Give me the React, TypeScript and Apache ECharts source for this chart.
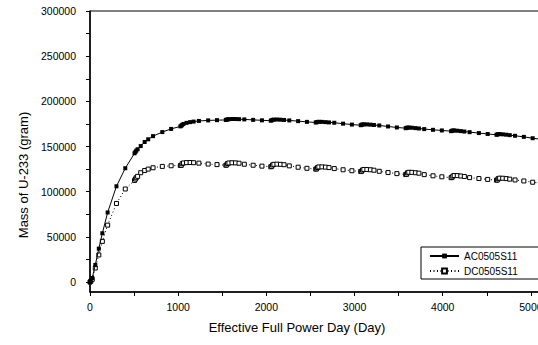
import React, { useEffect, useRef } from "react";
import * as echarts from "echarts";

const days = [
  0, 10, 25, 60, 100, 140, 200, 300, 400, 505,
  515, 525, 540, 575, 620, 660, 715, 820, 920, 1025,
  1035, 1045, 1060, 1095, 1135, 1175, 1235, 1340, 1440, 1540,
  1550, 1560, 1575, 1610, 1650, 1690, 1750, 1850, 1950, 2050,
  2060, 2070, 2085, 2120, 2160, 2200, 2260, 2360, 2460, 2560,
  2570, 2580, 2595, 2630, 2670, 2710, 2770, 2870, 2970, 3070,
  3080, 3090, 3105, 3140, 3180, 3220, 3280, 3380, 3480, 3580,
  3590, 3600, 3615, 3650, 3690, 3730, 3790, 3890, 3990, 4095,
  4105, 4115, 4130, 4165, 4205, 4245, 4305, 4410, 4510, 4610,
  4620, 4630, 4645, 4680, 4720, 4760, 4820, 4920, 5020, 5120,
];

const acValues = [
  0, 1500, 4500, 19000, 37000, 54000, 77000, 106000, 126000, 142500,
  144000, 145500, 147000, 150500, 155000, 158000, 161500, 166000, 169500, 172300,
  173000, 174000, 175000, 176200, 177000, 177600, 178300, 178900, 179200, 179400,
  179700, 180000, 180300, 180500, 180500, 180300, 180000, 179500, 179000, 178600,
  179000, 179500, 179800, 179900, 179700, 179400, 178900, 178100, 177300, 176600,
  176900, 177200, 177400, 177300, 177000, 176700, 176300, 175300, 174300, 173600,
  174000, 174400, 174600, 174500, 174200, 173800, 173300, 172200, 171100, 170300,
  170600, 170900, 171000, 170800, 170400, 170000, 169300, 168500, 167800, 167000,
  167400, 167700, 167800, 167500, 167100, 166600, 165900, 164900, 163900, 163000,
  163400, 163700, 163800, 163500, 163100, 162600, 161900, 160700, 159200, 158000,
];

const dcValues = [
  0, 1000, 3000, 15500, 30000, 45000, 63000, 87000, 103000, 112500,
  114000, 115500, 117000, 121000, 123500, 125000, 126500, 128000, 128700, 129000,
  129200, 131000, 131800, 132200, 132300, 132100, 131600, 130600, 130000, 129300,
  129600, 131200, 131800, 132000, 131900, 131500, 130400, 129300, 128300, 127600,
  128000, 129600, 130300, 130500, 130300, 129900, 128600, 127100, 125900, 125000,
  125300, 126800, 127400, 127500, 127200, 126700, 125600, 124300, 123200, 122300,
  122600, 124000, 124600, 124600, 124300, 123800, 122600, 121200, 120000, 119000,
  119300, 120900, 121500, 121400, 121000, 120500, 118900, 117600, 116500, 115500,
  115800, 117300, 117900, 117800, 117400, 116800, 115600, 114600, 113600, 112800,
  113000, 114500, 115000, 114900, 114500, 113900, 113000, 111900, 110500, 109500,
];

const seriesNames = ["AC0505S11", "DC0505S11"];
const yLabelValues = [0, 50000, 100000, 150000, 200000, 250000, 300000];
const yTickValues = [0, 25000, 50000, 75000, 100000, 125000, 150000, 175000, 200000, 225000, 250000, 275000, 300000];
const xAxisTitle = "Effective Full Power Day (Day)";
const yAxisTitle = "Mass of U-233 (gram)";

const FONT = "'Liberation Sans', Arial, Helvetica, sans-serif";

export default function App() {
  const ref = useRef<HTMLDivElement>(null);

  useEffect(() => {
    if (!ref.current) return;
    const chart = echarts.init(ref.current, null, { renderer: "svg" });
    const ac = days.map((d, i) => [d, acValues[i]]);
    const dc = days.map((d, i) => [d, dcValues[i]]);
    chart.setOption({
      animation: false,
      backgroundColor: "#fff",
      textStyle: { fontFamily: FONT, color: "#000" },
      grid: {
        left: 90,
        top: 11,
        width: 485,
        height: 281,
        show: true,
        borderColor: "#000",
        borderWidth: 1,
        backgroundColor: "transparent",
      },
      legend: {
        orient: "vertical",
        left: 421,
        top: 247,
        borderColor: "#000",
        borderWidth: 1,
        padding: [4, 30, 3, 8],
        itemWidth: 29,
        itemHeight: 6,
        itemGap: 5,
        textStyle: { fontSize: 10, color: "#000", fontFamily: FONT },
        data: seriesNames,
      },
      xAxis: {
        type: "value",
        min: 0,
        max: 5500,
        interval: 500,
        axisLine: { onZero: false, lineStyle: { color: "#000", width: 1.5 } },
        axisTick: { show: true, length: 4, lineStyle: { color: "#000", width: 1 } },
        axisLabel: {
          interval: 1, fontSize: 10.5, color: "#000", margin: 9, fontFamily: FONT,
          formatter: (v: number) => (v % 1000 === 0 ? String(v) : ""),
        },
        splitLine: { show: false },
      },
      yAxis: {
        type: "value",
        min: -11000,
        max: 300000,
        axisLine: { onZero: false, lineStyle: { color: "#000", width: 1.5 } },
        axisTick: { show: true, length: 4, customValues: yTickValues, lineStyle: { color: "#000", width: 1 } },
        axisLabel: {
          customValues: yLabelValues, fontSize: 10.5, color: "#000", margin: 14, fontFamily: FONT,
          formatter: (v: number) => String(v),
        },
        splitLine: { show: false },
      },
      graphic: [
        {
          type: "text",
          x: 297,
          y: 327,
          style: { text: xAxisTitle, fontSize: 13, fill: "#000", align: "center", verticalAlign: "middle", fontFamily: FONT },
        },
        {
          type: "text",
          x: 23,
          y: 175,
          rotation: Math.PI / 2,
          style: { text: yAxisTitle, fontSize: 13, fill: "#000", align: "center", verticalAlign: "middle", fontFamily: FONT },
        },
      ],
      series: [
        {
          name: seriesNames[0],
          type: "line",
          data: ac,
          symbol: "rect",
          symbolSize: 4,
          showAllSymbol: true,
          itemStyle: { color: "#000" },
          lineStyle: { color: "#000", width: 1 },
          z: 3,
        },
        {
          name: seriesNames[1],
          type: "line",
          data: dc,
          symbol: "rect",
          symbolSize: 4,
          showAllSymbol: true,
          itemStyle: { color: "#fff", borderColor: "#000", borderWidth: 1 },
          lineStyle: { color: "#000", width: 1, type: [1, 2.5] },
          z: 2,
        },
      ],
    });
    return () => chart.dispose();
  }, []);

  return (
    <div
      ref={ref}
      style={{ position: "fixed", left: 0, top: 0, width: 600, height: 345, background: "#fff" }}
    />
  );
}
